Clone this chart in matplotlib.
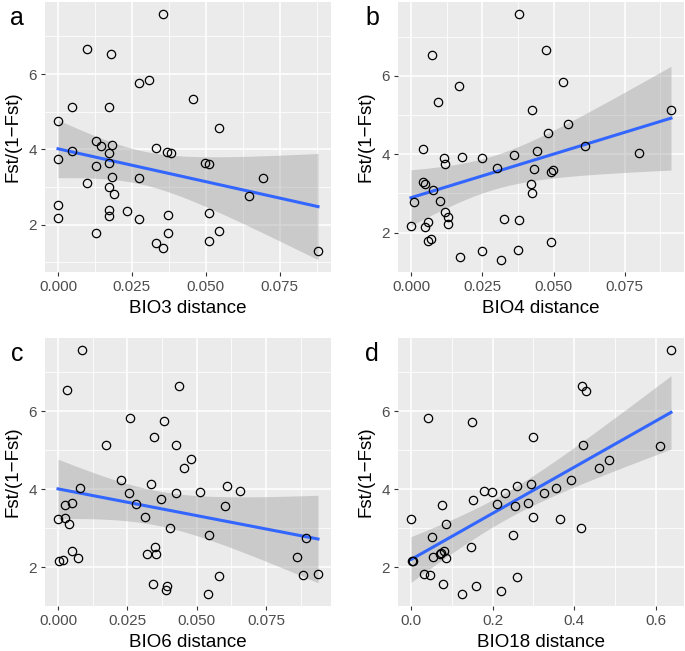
import numpy as np
import matplotlib
matplotlib.use("Agg")
import matplotlib.pyplot as plt
from matplotlib.ticker import FixedLocator, FormatStrFormatter

plt.rcParams['font.family'] = ['Liberation Sans', 'DejaVu Sans']

# valores (Fst/(1-Fst) contra distancia de cada variavel)
bio3_x = [0.0356, 0.0097, 0.0181, 0.0273, 0.0309, 0.0456, 0.0048, 0.0174, 0.0, 0.0546,
          0.0127, 0.0146, 0.0182, 0.0333, 0.0048, 0.0370, 0.0383, 0.0174, 0.0, 0.0174,
          0.0127, 0.0497, 0.0511, 0.0182, 0.0273, 0.0693, 0.0097, 0.0174, 0.0189, 0.0645,
          0.0, 0.0174, 0.0235, 0.0510, 0.0174, 0.0371, 0.0, 0.0273, 0.0371, 0.0546,
          0.0127, 0.0333, 0.0357, 0.0510, 0.0880]
bio3_y = [7.59, 6.67, 6.54, 5.76, 5.84, 5.35, 5.14, 5.14, 4.76, 4.56,
          4.23, 4.10, 4.12, 4.04, 3.96, 3.93, 3.90, 3.90, 3.74, 3.64,
          3.56, 3.63, 3.61, 3.28, 3.24, 3.24, 3.10, 3.01, 2.82, 2.76,
          2.53, 2.39, 2.36, 2.32, 2.24, 2.26, 2.17, 2.15, 1.79, 1.84,
          1.77, 1.52, 1.39, 1.56, 1.31]

bio4_x = [0.0378, 0.0075, 0.0472, 0.0169, 0.0534, 0.0094, 0.0424, 0.0912, 0.0552, 0.0482,
          0.0611, 0.0043, 0.0441, 0.0799, 0.0114, 0.0179, 0.0248, 0.0363, 0.0121, 0.0303,
          0.0432, 0.0491, 0.0498, 0.0042, 0.0049, 0.0077, 0.0422, 0.0423, 0.0009, 0.0103,
          0.0121, 0.0129, 0.0129, 0.0327, 0.0378, 0.0, 0.0049, 0.0061, 0.0060, 0.0069,
          0.0492, 0.0376, 0.0248, 0.0172, 0.0317]
bio4_y = [7.57, 6.53, 6.65, 5.75, 5.83, 5.34, 5.13, 5.12, 4.76, 4.55,
          4.22, 4.13, 4.09, 4.03, 3.90, 3.93, 3.90, 3.97, 3.74, 3.65,
          3.62, 3.56, 3.60, 3.28, 3.25, 3.09, 3.24, 3.01, 2.77, 2.81,
          2.52, 2.39, 2.23, 2.35, 2.32, 2.17, 2.15, 2.26, 1.79, 1.83,
          1.76, 1.56, 1.52, 1.39, 1.31]

bio6_x = [0.0085, 0.0031, 0.0436, 0.0261, 0.0382, 0.0347, 0.0172, 0.0425, 0.0480, 0.0456,
          0.0226, 0.0337, 0.0081, 0.0611, 0.0655, 0.0511, 0.0256, 0.0427, 0.0371, 0.0281,
          0.0050, 0.0025, 0.0601, 0.0315, 0.0, 0.0026, 0.0041, 0.0405, 0.0546, 0.0893,
          0.0351, 0.0320, 0.0352, 0.0049, 0.0072, 0.0863, 0.0005, 0.0018, 0.0580, 0.0885,
          0.0938, 0.0343, 0.0395, 0.0389, 0.0541]
bio6_y = [7.57, 6.54, 6.66, 5.83, 5.75, 5.35, 5.13, 5.14, 4.77, 4.56,
          4.23, 4.13, 4.04, 4.09, 3.97, 3.94, 3.91, 3.91, 3.74, 3.62,
          3.65, 3.61, 3.57, 3.28, 3.24, 3.26, 3.10, 3.01, 2.82, 2.75,
          2.53, 2.33, 2.35, 2.41, 2.24, 2.26, 2.16, 2.18, 1.77, 1.79,
          1.84, 1.56, 1.53, 1.41, 1.32]

bio18_x = [0.637, 0.419, 0.429, 0.042, 0.149, 0.298, 0.422, 0.611, 0.486, 0.460,
           0.392, 0.259, 0.295, 0.355, 0.179, 0.198, 0.230, 0.326, 0.153, 0.075,
           0.210, 0.287, 0.256, 0.0, 0.298, 0.364, 0.085, 0.417, 0.251, 0.051,
           0.147, 0.073, 0.071, 0.081, 0.053, 0.085, 0.003, 0.004, 0.032, 0.047,
           0.260, 0.078, 0.159, 0.220, 0.125]
bio18_y = [7.57, 6.65, 6.53, 5.82, 5.74, 5.34, 5.13, 5.11, 4.76, 4.55,
           4.23, 4.09, 4.13, 4.03, 3.96, 3.93, 3.90, 3.90, 3.73, 3.60,
           3.63, 3.64, 3.57, 3.25, 3.28, 3.24, 3.10, 3.01, 2.82, 2.77,
           2.53, 2.36, 2.33, 2.41, 2.26, 2.24, 2.16, 2.17, 1.84, 1.79,
           1.76, 1.56, 1.52, 1.40, 1.32]

letters = ["a", "b", "c", "d"]
xlabels = ["BIO3 distance", "BIO4 distance", "BIO6 distance", "BIO18 distance"]
xticks_main = [[0, 0.025, 0.05, 0.075], [0, 0.025, 0.05, 0.075],
               [0, 0.025, 0.05, 0.075], [0, 0.2, 0.4, 0.6]]
xfmt = ["%.3f", "%.3f", "%.3f", "%.1f"]
yticks_main = [2, 4, 6]

W, H = 685, 651
# caixas dos paineis em pixels (esq, topo, dir, base)
boxes = [(45, 2, 331, 272), (398, 2, 684, 272), (45, 338, 331, 606), (398, 338, 684, 606)]
letter_pos = [(17, 18), (372, 18), (17, 354), (372, 354)]

fig = plt.figure(figsize=(W / 100, H / 100), dpi=100)

dados = [(bio3_x, bio3_y), (bio4_x, bio4_y), (bio6_x, bio6_y), (bio18_x, bio18_y)]
tval = 2.017  # t(0.975, 43)

for i, (xs, ys) in enumerate(dados):
    x = np.array(xs)
    y = np.array(ys)
    l, t, r, b = boxes[i]
    ax = fig.add_axes([l / W, 1 - b / H, (r - l) / W, (b - t) / H])
    ax.set_facecolor('#EBEBEB')
    for s in ax.spines.values():
        s.set_visible(False)

    # regressao linear com intervalo de confianca (como geom_smooth lm)
    n = len(x)
    slope, inter = np.polyfit(x, y, 1)
    xx = np.linspace(x.min(), x.max(), 80)
    yy = inter + slope * xx
    res = y - (inter + slope * x)
    sd = np.sqrt(np.sum(res ** 2) / (n - 2))
    sxx = np.sum((x - x.mean()) ** 2)
    se = sd * np.sqrt(1.0 / n + (xx - x.mean()) ** 2 / sxx)
    lo = yy - tval * se
    hi = yy + tval * se

    ax.fill_between(xx, lo, hi, color='#999999', alpha=0.4, linewidth=0, zorder=2)
    ax.plot(xx, yy, color='#3366FF', linewidth=2.2, zorder=3)
    ax.plot(x, y, 'o', markerfacecolor='none', markeredgecolor='black',
            markersize=6, markeredgewidth=0.9, zorder=4)

    xr = x.max() - x.min()
    ax.set_xlim(x.min() - 0.05 * xr, x.max() + 0.05 * xr)
    ymin = min(y.min(), lo.min())
    ymax = max(y.max(), hi.max())
    yr = ymax - ymin
    ax.set_ylim(ymin - 0.05 * yr, ymax + 0.05 * yr)

    xt = xticks_main[i]
    step = xt[1] - xt[0]
    xminor = [v + step / 2 for v in [xt[0] - step] + xt]
    ax.xaxis.set_major_locator(FixedLocator(xt))
    ax.xaxis.set_minor_locator(FixedLocator(xminor))
    ax.xaxis.set_major_formatter(FormatStrFormatter(xfmt[i]))
    ax.yaxis.set_major_locator(FixedLocator(yticks_main))
    ax.yaxis.set_minor_locator(FixedLocator([1, 3, 5, 7]))

    ax.grid(which='major', color='white', linewidth=1.1, zorder=0)
    ax.grid(which='minor', color='white', linewidth=0.55, zorder=0)
    ax.set_axisbelow(True)
    ax.tick_params(which='major', length=3, width=0.8, color='#333333',
                   labelcolor='#4D4D4D', labelsize=11, pad=3)
    ax.tick_params(which='minor', length=0)

    ax.set_xlabel(xlabels[i], fontsize=13.5, labelpad=4)
    ax.set_ylabel("Fst/(1\u2212Fst)", fontsize=13.5, labelpad=5)

    lx, ly = letter_pos[i]
    fig.text(lx / W, 1 - ly / H, letters[i], fontsize=18, ha='center', va='center')

fig.savefig("out.png", dpi=100)
